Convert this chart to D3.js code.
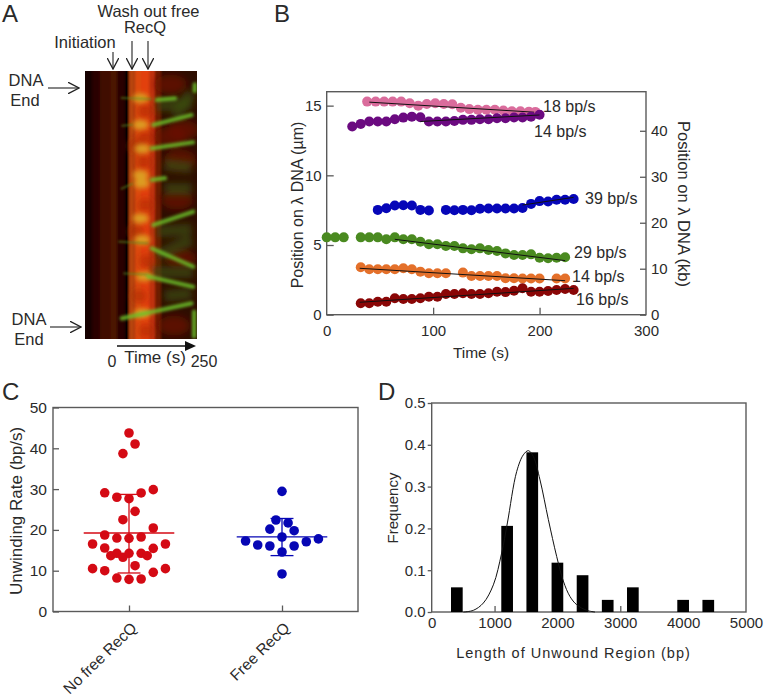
<!DOCTYPE html>
<html><head><meta charset="utf-8">
<script src="https://cdnjs.cloudflare.com/ajax/libs/d3/7.8.5/d3.min.js"></script>
<style>
html,body{margin:0;padding:0;background:#fff}
svg{display:block}
text{font-family:"Liberation Sans",Arial,sans-serif;fill:#2a2a2a}
</style></head><body>
<svg id="c" width="765" height="697"></svg>
<script>
// ---------- Panel B: position vs time ----------
const pinkT   = [38,46,54,62,70,78,86,94,102,110,118,126,134,142,150,158,166,174,182,190,196];
const pinkV   = [15.29,15.29,15.29,15.29,15.29,15.17,15.0,15.12,15.17,15.12,15.1,14.85,14.75,14.7,14.7,14.7,14.65,14.6,14.6,14.57,14.55];
const purpleT = [24,32,40,48,56,64,72,80,88,96,104,112,120,128,136,144,152,160,168,176,184,192,200];
const purpleV = [13.5,13.69,13.86,13.86,13.86,14.02,14.14,14.21,14.17,13.86,13.86,13.86,13.9,13.98,13.98,14.02,14.02,14.1,14.1,14.15,14.15,14.2,14.34];
const blueT   = [48,56,64,72,80,88,96,112,120,128,136,144,152,160,168,176,184,192,200,208,216,224,232];
const blueV   = [7.52,7.64,7.83,7.85,7.83,7.52,7.47,7.52,7.5,7.52,7.5,7.6,7.62,7.62,7.62,7.62,7.65,7.95,8.15,8.12,8.25,8.25,8.3];
const greenT  = [0,8,16,32,40,48,56,64,72,80,88,96,104,112,120,128,136,144,152,160,168,176,184,192,200,208,216,224];
const greenV  = [5.55,5.55,5.55,5.55,5.55,5.55,5.41,5.55,5.41,5.41,5.24,5.05,5.05,4.93,4.93,4.76,4.69,4.76,4.64,4.57,4.4,4.28,4.28,4.33,4.09,4.05,4.09,4.12];
const orangeT = [32,40,48,56,64,72,80,88,96,104,112,128,136,144,152,160,168,176,184,192,200,216,224];
const orangeV = [3.4,3.26,3.26,3.26,3.26,3.33,3.26,3.09,2.97,2.97,2.97,3.02,2.78,2.78,2.78,2.78,2.61,2.61,2.6,2.6,2.6,2.6,2.6];
const maroonT = [32,40,48,56,64,72,80,88,96,104,112,120,128,136,144,152,160,168,176,184,192,200,208,216,224,232];
const maroonV = [0.82,0.82,0.93,0.93,1.18,1.13,1.13,1.18,1.29,1.29,1.49,1.49,1.54,1.49,1.49,1.54,1.65,1.62,1.72,1.9,1.65,1.65,1.7,1.77,1.85,1.77];
const seriesColors = ["#da6c9c","#6b0a80","#0606b8","#4a8a20","#e4702a","#8a0606"];
const fitStart = [[40,15.25],[88,13.86],[184,7.87],[64,5.41],[31,3.33],[31,0.89]];
const fitEnd   = [[195,14.53],[200,14.33],[232,8.42],[224,3.88],[224,2.44],[232,1.89]];
const rateLabels = ["18 bp/s","14 bp/s","39 bp/s","29 bp/s","14 bp/s","16 bp/s"];
const timeTicks = [0,100,200,300];
const umTicks = [0,5,10,15];
const kbTicks = [0,10,20,30,40];

// ---------- Panel C: unwinding rates ----------
const groups = ["No free RecQ","Free RecQ"];
const noFreeV = [43.75,41.05,38.7,29.1,28,27.65,29.05,29.86,24.55,22.5,20.47,18.75,18,17.93,18.26,16.54,16.54,15.56,15.48,13.68,14.26,13.28,14.26,14.26,13.68,11.23,10.5,10,9.6,10.5,8.2,7.88,7.97];
const noFreeSlot = [0,1,-1,-4,-2,0,2,4,1,-1,4,-4,-2,0,2,-6,6,-4,4,-3,-2,-1,0,2,3,1,-6,-4,4,6,-2,0,2];
const freeV = [29.45,22.43,21.7,20.2,19.8,18.26,17.28,16.3,16.05,16.05,17.1,17.8,14.58,9.2];
const freeSlot = [0,-1,1,-2,2,0,-6,-4,-2,2,4,6,0,0];
const groupMean = [19.24,18.3];
const groupHigh = [28.7,22.8];
const groupLow  = [9.44,13.7];
const rateTicks = [0,10,20,30,40,50];

// ---------- Panel D: histogram ----------
const binCenters = [400,1200,1600,2000,2400,2800,3200,4000,4400];
const binFreq    = [0.059,0.206,0.382,0.118,0.088,0.029,0.059,0.029,0.029];
const curveBp    = [504,663,822,981,1113,1204,1352,1458,1538,1617,1723,1856,1988,2094,2200,2306,2465,2598];
const curveFreq  = [0,0.004,0.0215,0.065,0.141,0.213,0.336,0.376,0.386,0.372,0.316,0.221,0.133,0.074,0.037,0.0175,0.004,0];
const lenTicks = [0,1000,2000,3000,4000,5000];
const freqTicks = [0,0.1,0.2,0.3,0.4,0.5];

// ---------- Panel A: kymograph (time in s, position in % of the DNA) ----------
const columnT0 = [-100,-78,-54,-22,0,26,38,56,76,104,122,140];
const columnT1 = [-78,-54,-22,0,26,38,56,76,104,122,140,262];
const columnFill = ["#140400","#2a0400","#400700","#4c1206","#2c0300","#040000","#b84410","#dc4a10","#e2400e","#c03208","#6e1a04","#2e0c02"];
const brightStreaks = [[126,10.8,184,10.2],[115,20.1,236,16.4],[110,28.9,241,26.6],[110,40.6,152,40],[115,57.5,241,52.5],[110,66.2,241,73],[99,76.7,241,80.5],[15,92.3,236,86.7],[244,89.8,244,99.1],[246,5,246,7.5]];
const faintStreaks = [[12,10,110,10.5],[14,20.5,50,20],[12,44,50,42],[4,63.7,100,64.3],[20,75.5,100,76]];
const haze = [[126,13,236,12],[184,17,236,8],[150,44,236,44],[150,35,236,36],[126,60,236,59],[126,69,236,63],[110,75,241,75],[150,84,236,83]];
const redPatches = [[170,24.5],[200,33],[190,48],[200,70],[180,95],[170,5],[210,22]];
const darkBand = [[90,15],[90,25],[85,34],[90,50],[60,60],[95,71],[70,84],[92,97],[60,28]];
const yellowSpots = [[75,10.2],[75,20.1],[80,29],[75,38.8],[78,42],[75,55],[80,63],[86,76.7],[80,90.4]];

const svg = d3.select("#c");
const defs = svg.append("defs");
const blur = (id,s)=>defs.append("filter").attr("id",id).attr("filterUnits","userSpaceOnUse").attr("x",60).attr("y",50).attr("width",170).attr("height",310).append("feGaussianBlur").attr("stdDeviation",s);
blur("b1",1.3);blur("b2",2.4);blur("b3",3.5);blur("b4",1.7);
defs.append("clipPath").attr("id","kclip").append("rect").attr("x",85).attr("y",71).attr("width",112).attr("height",268);
defs.append("marker").attr("id","thin").attr("viewBox","0 0 10 10").attr("refX",9.5).attr("refY",5).attr("markerUnits","userSpaceOnUse").attr("markerWidth",12).attr("markerHeight",12)
  .attr("orient","auto").append("path").attr("d","M0,0L9.5,5L0,10").attr("fill","none").attr("stroke","#222").attr("stroke-width",1.1);

const AX = "#5a5a5a";
function styleAxis(g,fs){
  g.selectAll("path.domain").remove();
  g.selectAll(".tick line").attr("stroke",AX).attr("stroke-width",1.3);
  g.selectAll(".tick text").style("font-size",fs+"px").attr("fill","#2a2a2a").style("font-family",'"Liberation Sans",Arial,sans-serif');
}
function frame(x0,y0,x1,y1,w){
  svg.append("rect").attr("x",x0).attr("y",y0).attr("width",x1-x0).attr("height",y1-y0).attr("fill","none").attr("stroke",AX).attr("stroke-width",w||1.4);
}
function label(x,y,s,fs,anchor,rot,extra){
  const t = svg.append("text").attr("x",x).attr("y",y).text(s).style("font-size",fs+"px").attr("text-anchor",anchor||"start");
  if(rot) t.attr("transform",`rotate(${rot} ${x} ${y})`);
  if(extra) t.style("letter-spacing",extra+"px");
  return t;
}

// ===== Panel letters =====
label(2,22,"A",24);label(274,22,"B",24);label(2,400,"C",24);label(378,400,"D",24);

// ===== Panel A =====
const kx = d3.scaleLinear().domain([0,250]).range([117,196]);
const ky = d3.scaleLinear().domain([0,100]).range([71,339]);
const k = svg.append("g").attr("clip-path","url(#kclip)");
k.append("rect").attr("x",85).attr("y",71).attr("width",112).attr("height",268).attr("fill","#140400");
k.append("g").attr("filter","url(#b1)").selectAll("rect").data(columnFill).join("rect")
  .attr("x",(d,i)=>kx(columnT0[i])).attr("width",(d,i)=>kx(columnT1[i])-kx(columnT0[i]))
  .attr("y",60).attr("height",290).attr("fill",d=>d);
k.append("g").attr("filter","url(#b3)").selectAll("ellipse").data(darkBand).join("ellipse")
  .attr("cx",d=>kx(d[0])).attr("cy",d=>ky(d[1])).attr("rx",8).attr("ry",7).attr("fill","#a82404").attr("opacity",.6);
k.append("g").attr("filter","url(#b3)").selectAll("ellipse").data(redPatches).join("ellipse")
  .attr("cx",d=>kx(d[0])).attr("cy",d=>ky(d[1])).attr("rx",16).attr("ry",10).attr("fill","#6e1004").attr("opacity",.7);
k.append("g").attr("filter","url(#b3)").selectAll("line").data(haze).join("line")
  .attr("x1",d=>kx(d[0])).attr("y1",d=>ky(d[1])).attr("x2",d=>kx(d[2])).attr("y2",d=>ky(d[3]))
  .attr("stroke","#3c5012").attr("stroke-width",12).attr("opacity",.7);
k.append("g").attr("filter","url(#b2)").selectAll("ellipse").data(yellowSpots).join("ellipse")
  .attr("cx",d=>kx(d[0])).attr("cy",d=>ky(d[1])).attr("rx",8).attr("ry",5).attr("fill","#dcaa24").attr("opacity",.85);
k.append("g").attr("filter","url(#b1)").selectAll("line").data(faintStreaks).join("line")
  .attr("x1",d=>kx(d[0])).attr("y1",d=>ky(d[1])).attr("x2",d=>kx(d[2])).attr("y2",d=>ky(d[3]))
  .attr("stroke","#5a8a1a").attr("stroke-width",2.2).attr("opacity",.55);
k.append("g").attr("filter","url(#b4)").selectAll("line").data(brightStreaks).join("line")
  .attr("x1",d=>kx(d[0])).attr("y1",d=>ky(d[1])).attr("x2",d=>kx(d[2])).attr("y2",d=>ky(d[3]))
  .attr("stroke","#6cc22c").attr("stroke-width",4.2).attr("stroke-linecap","round").attr("opacity",.85);

label(148.5,17,"Wash out free",16.5,"middle");
label(145,33,"RecQ",16.5,"middle");
label(85,48,"Initiation",16.5,"middle");
label(26,86,"DNA",16.5,"middle");label(25,106,"End",16.5,"middle");
label(29,325,"DNA",16.5,"middle");label(29,345,"End",16.5,"middle");
const arrow=(x1,y1,x2,y2)=>svg.append("line").attr("x1",x1).attr("y1",y1).attr("x2",x2).attr("y2",y2).attr("stroke","#222").attr("stroke-width",1.1).attr("marker-end","url(#thin)");
arrow(113,52,113,69);arrow(132,41,132,69);arrow(148,41,148,69);
arrow(48,88,79,88);arrow(50,327,81,327);
svg.append("line").attr("x1",kx(0)).attr("x2",kx(250)-8).attr("y1",346).attr("y2",346).attr("stroke","#111").attr("stroke-width",1.4);
svg.append("path").attr("d",d3.line()([[kx(250)-11,341],[kx(250),346],[kx(250)-11,351]])+"Z").attr("fill","#111");
label(112,367,"0",16,"middle");label(155,363,"Time (s)",17,"middle");label(204,367,"250",16,"middle");

// ===== Panel B =====
const bx = d3.scaleLinear().domain([0,300]).range([326.7,646]);
const by = d3.scaleLinear().domain([0,16]).range([314.7,91.7]);
const byKb = d3.scaleLinear().domain([0,48.5]).range([314.7,91.7]);
frame(326.7,91.7,646,314.7);
const gBx = svg.append("g").attr("transform","translate(0,314.7)").call(d3.axisBottom(bx).tickValues(timeTicks).tickSize(-7).tickPadding(11));
styleAxis(gBx,15);gBx.selectAll(".tick line").attr("opacity",(d,i)=>(i==0||i==3)?0:1);
const gBy = svg.append("g").attr("transform","translate(326.7,0)").call(d3.axisLeft(by).tickValues(umTicks).tickSize(-7).tickPadding(5));
styleAxis(gBy,15);
const gBr = svg.append("g").attr("transform","translate(646,0)").call(d3.axisRight(byKb).tickValues(kbTicks).tickSize(-6).tickPadding(5));
styleAxis(gBr,15);
label(481,358,"Time (s)",15.5,"middle");
label(303,205,"Position on λ DNA (µm)",16,"middle",-90);
label(678,204,"Position on λ DNA (kb)",16.5,"middle",90);
const seriesT=[pinkT,purpleT,blueT,greenT,orangeT,maroonT], seriesV=[pinkV,purpleV,blueV,greenV,orangeV,maroonV];
seriesT.forEach((ts,s)=>{
  svg.append("g").selectAll("circle").data(ts).join("circle")
    .attr("cx",d=>bx(d)).attr("cy",(d,i)=>by(seriesV[s][i])).attr("r",5).attr("fill",seriesColors[s]);
  svg.append("line").attr("x1",bx(fitStart[s][0])).attr("y1",by(fitStart[s][1])).attr("x2",bx(fitEnd[s][0])).attr("y2",by(fitEnd[s][1]))
    .attr("stroke","#111").attr("stroke-width",1);
});
const rateX=[543,534,585,574,572,576], rateY=[112,137,204,258,282,305];
rateLabels.forEach((s,i)=>label(rateX[i],rateY[i],s,16,"start"));

// ===== Panel C =====
const cx = d3.scaleLinear().domain([0,1]).range([129,282]);
const cy = d3.scaleLinear().domain([0,50]).range([611.5,407.5]);
const slotW = 6.07/153;
frame(53,407.5,358,611.5);
const gCx = svg.append("g").attr("transform","translate(0,611.5)").call(d3.axisBottom(cx).tickValues([0,1]).tickSize(-6).tickFormat(""));
styleAxis(gCx,14);
const gCy = svg.append("g").attr("transform","translate(53,0)").call(d3.axisLeft(cy).tickValues(rateTicks).tickSize(-6).tickPadding(6));
styleAxis(gCy,15.5);
label(22,511,"Unwinding Rate (bp/s)",17,"middle",-90);
groups.forEach((g,i)=>label(cx(i)+1,621,g,15.5,"end",-44).attr("dominant-baseline","hanging"));
const gCols=["#d40a14","#0606b4"];
[noFreeV,freeV].forEach((vals,g)=>{
  const slots=[noFreeSlot,freeSlot][g];
  svg.append("g").selectAll("circle").data(vals).join("circle")
    .attr("cx",(d,i)=>cx(g+slots[i]*slotW)).attr("cy",d=>cy(d)).attr("r",4.8).attr("fill",gCols[g]);
  const c=svg.append("g").attr("stroke",gCols[g]).attr("stroke-width",1.3);
  c.append("line").attr("x1",cx(g-0.296)).attr("x2",cx(g+0.296)).attr("y1",cy(groupMean[g])).attr("y2",cy(groupMean[g]));
  c.append("line").attr("x1",cx(g)).attr("x2",cx(g)).attr("y1",cy(groupHigh[g])).attr("y2",cy(groupLow[g]));
  [groupHigh[g],groupLow[g]].forEach(v=>c.append("line").attr("x1",cx(g-0.075)).attr("x2",cx(g+0.075)).attr("y1",cy(v)).attr("y2",cy(v)));
});

// ===== Panel D =====
const dx = d3.scaleLinear().domain([0,5000]).range([431.7,746]);
const dy = d3.scaleLinear().domain([0,0.5]).range([612,403]);
frame(431.7,403,746,612);
const gDx = svg.append("g").attr("transform","translate(0,612)").call(d3.axisBottom(dx).tickValues(lenTicks).tickSize(-6).tickPadding(5).tickFormat(d3.format("d")));
styleAxis(gDx,15);gDx.selectAll(".tick line").attr("opacity",(d,i)=>(i==0||i==5)?0:1);
const gDy = svg.append("g").attr("transform","translate(431.7,0)").call(d3.axisLeft(dy).tickValues(freqTicks).tickSize(4).tickPadding(2).tickFormat(d3.format(".1f")));
styleAxis(gDy,15);
label(573.5,658,"Length of Unwound Region (bp)",14.5,"middle",0,1);
label(398,508,"Frequency",15,"middle",-90);
svg.append("g").selectAll("rect").data(binCenters).join("rect")
  .attr("x",d=>dx(d-93)).attr("width",d=>dx(d+93)-dx(d-93))
  .attr("y",(d,i)=>dy(binFreq[i])).attr("height",(d,i)=>dy(0)-dy(binFreq[i])).attr("fill","#000");
svg.append("path").datum(curveBp.map((b,i)=>[b,curveFreq[i]]))
  .attr("d",d3.line().x(d=>dx(d[0])).y(d=>dy(d[1])).curve(d3.curveCatmullRom))
  .attr("fill","none").attr("stroke","#111").attr("stroke-width",1);
</script>
</body></html>
